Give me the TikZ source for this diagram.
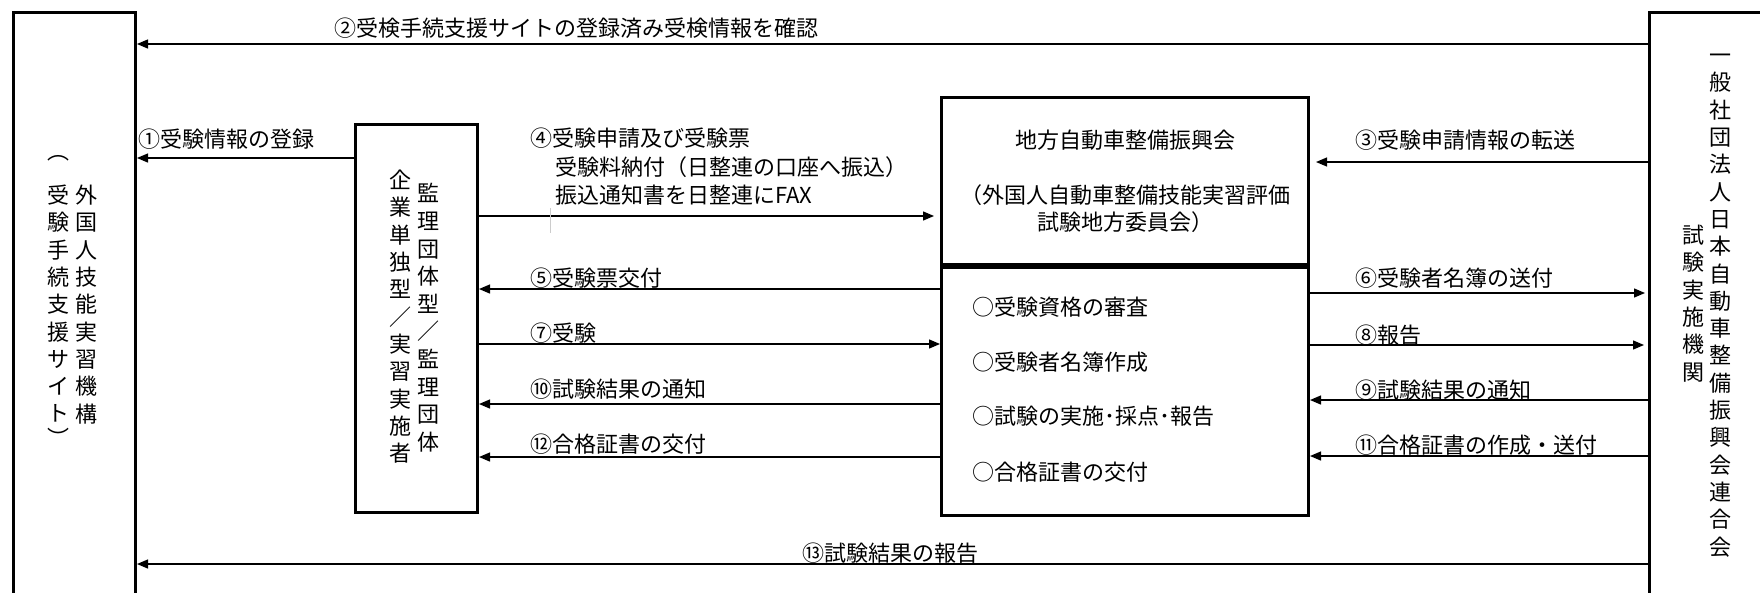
\documentclass[tikz,border=0pt]{standalone}
\usepackage{fontspec}
\newfontfamily\jpfont{Noto Sans CJK JP}
\usetikzlibrary{arrows.meta,positioning}

\begin{document}
\begin{tikzpicture}[x=1pt,y=-1pt,
        box/.style={draw=black, line width=3pt, anchor=north west, inner sep=0pt},
        tate/.style={anchor=north, align=center, inner sep=0pt, font=\jpfont\fontsize{22}{27.3}\selectfont},
        lbl/.style={anchor=base west, inner sep=0pt, font=\jpfont\fontsize{22}{26}\selectfont},
        arr/.style={-{Triangle[length=11pt,width=9pt]}, line width=1.3pt}]
        \useasboundingbox (0,0) rectangle (1760,592);
        \clip (0,0) rectangle (1760,592);

        \node[box, minimum width=122pt, minimum height=640pt] (kiko) at (12,11) {};
        \node[box, minimum width=122pt, minimum height=388pt] (kanri) at (354,123) {};
        \node[box, minimum width=367pt, minimum height=167pt] (shinko) at (940,96) {};
        \node[box, minimum width=367pt, minimum height=248pt, below=0pt of shinko] (gyomu) {};
        \node[box, minimum width=200pt, minimum height=640pt] (rengo) at (1648,11) {};

        \node[tate] (kikoname) at (86,184.3) {{\strut}外\\国\\人\\技\\能\\実\\習\\機\\構{\strut}};
        \node[tate] (kikosite) at (58,139.9) {{\strut}︵\\[17pt]受\\験\\手\\続\\支\\援\\サ\\イ\\ト\\[-3pt]︶{\strut}};
        \node[tate, font=\jpfont\fontsize{22}{27.6}\selectfont] (kanriname) at (428,182.3) {{\strut}監\\理\\団\\体\\型\\／\\監\\理\\団\\体{\strut}};
        \node[tate] (kigyoname) at (400,169.3) {{\strut}企\\業\\単\\独\\型\\／\\実\\習\\実\\施\\者{\strut}};
        \node[tate] (rengoname) at (1720,44.3) {{\strut}一\\般\\社\\団\\法\\人\\日\\本\\自\\動\\車\\整\\備\\振\\興\\会\\連\\合\\会{\strut}};
        \node[tate] (shikenname) at (1693,224.3) {{\strut}試\\験\\実\\施\\機\\関{\strut}};

        \node[align=center, inner sep=0pt, font=\jpfont\fontsize{22}{27.5}\selectfont] (shinkoname) at ([yshift=-3pt]shinko.center)
            {{\strut}地方自動車整備振興会\\[27.5pt]（外国人自動車整備技能実習評価\\試験地方委員会）{\strut}};
        \node[lbl] (gyomu1) at (972,315.5) {○受験資格の審査};
        \node[lbl] (gyomu2) at (972,370.5) {○受験者名簿作成};
        \node[lbl] (gyomu3) at (972,424.5) {○試験の実施･採点･報告};
        \node[lbl] (gyomu4) at (972,480.5) {○合格証書の交付};

        \draw[arr] (rengo.west |- 0,44) -- (kiko.east |- 0,44);
        \draw[arr] (kanri.west |- 0,158) -- (kiko.east |- 0,158);
        \draw[arr, shorten >=6pt] (rengo.west |- 0,162) -- (shinko.east |- 0,162);
        \draw[arr, shorten >=6pt] (kanri.east |- 0,216) -- (shinko.west |- 0,216);
        \draw[arr] (gyomu.west |- 0,289) -- (kanri.east |- 0,289);
        \draw[arr, shorten >=3pt] (gyomu.east |- 0,293) -- (rengo.west |- 0,293);
        \draw[arr] (kanri.east |- 0,344) -- (gyomu.west |- 0,344);
        \draw[arr, shorten >=4pt] (gyomu.east |- 0,345) -- (rengo.west |- 0,345);
        \draw[arr] (rengo.west |- 0,400) -- (gyomu.east |- 0,400);
        \draw[arr] (gyomu.west |- 0,404) -- (kanri.east |- 0,404);
        \draw[arr] (rengo.west |- 0,456) -- (gyomu.east |- 0,456);
        \draw[arr] (gyomu.west |- 0,457) -- (kanri.east |- 0,457);
        \draw[arr] (rengo.west |- 0,564) -- (kiko.east |- 0,564);
        \draw[gray!40, line width=0.8pt] (550,208) -- (550,233);

        \node[lbl] (lbl2) at (334,36.5) {②受検手続支援サイトの登録済み受検情報を確認};
        \node[lbl] (lbl1) at (138,147.5) {①受験情報の登録};
        \node[lbl] (lbl3) at (1355,148.5) {③受験申請情報の転送};
        \node[lbl] (lbl4a) at (530,146.5) {④受験申請及び受験票};
        \node[lbl] (lbl4b) at (555,175.5) {受験料納付（日整連の口座へ振込）};
        \node[lbl] (lbl4c) at (555,203.5) {振込通知書を日整連にFAX};
        \node[lbl] (lbl5) at (530,286.5) {⑤受験票交付};
        \node[lbl] (lbl6) at (1355,286.5) {⑥受験者名簿の送付};
        \node[lbl] (lbl7) at (530,341.5) {⑦受験};
        \node[lbl] (lbl8) at (1355,343.5) {⑧報告};
        \node[lbl] (lbl9) at (1355,398.5) {⑨試験結果の通知};
        \node[lbl] (lbl10) at (530,397.5) {⑩試験結果の通知};
        \node[lbl] (lbl11) at (1355,453.5) {⑪合格証書の作成・送付};
        \node[lbl] (lbl12) at (530,452.5) {⑫合格証書の交付};
        \node[lbl] (lbl13) at (802,561.5) {⑬試験結果の報告};
\end{tikzpicture}
\end{document}
